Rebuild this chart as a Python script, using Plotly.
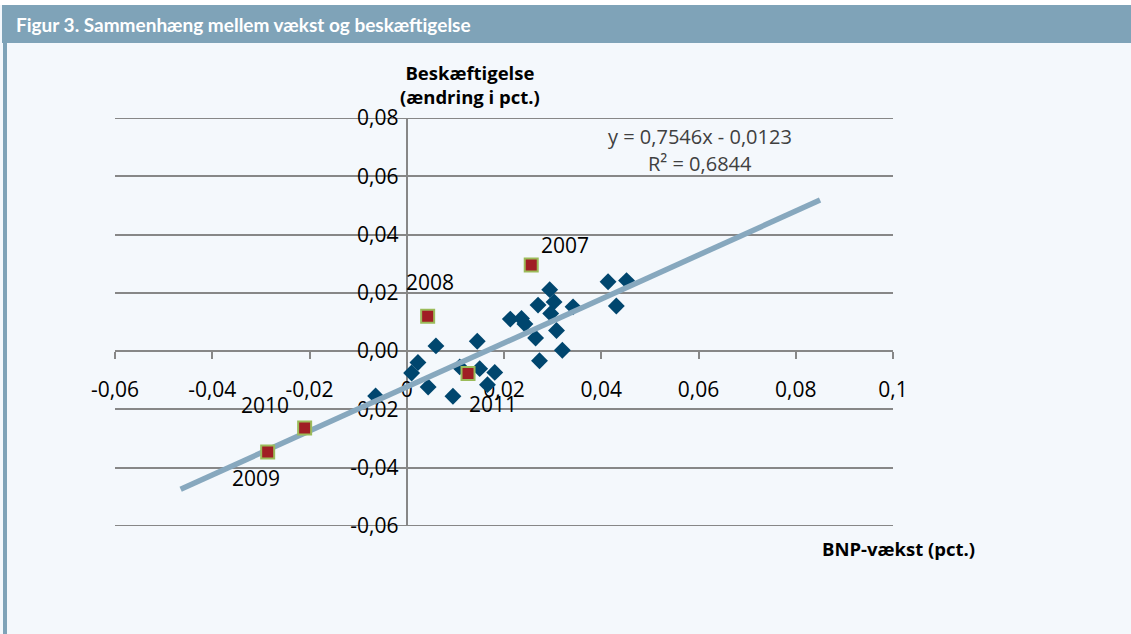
import plotly.graph_objects as go

# ---- data ----
blue_x = [0.0060, 0.0145, 0.0023, 0.0010, 0.0044, 0.0095, 0.0150, 0.0109, 0.0181, 0.0166,
          -0.0064, 0.0213, 0.0236, 0.0243, 0.0294, 0.0303, 0.0270, 0.0342, 0.0296, 0.0308,
          0.0265, 0.0320, 0.0273, 0.0414, 0.0452, 0.0431]
blue_y = [0.0018, 0.0034, -0.0039, -0.0075, -0.0123, -0.0155, -0.0060, -0.0054, -0.0073, -0.0115,
          -0.0154, 0.0110, 0.0112, 0.0093, 0.0211, 0.0169, 0.0158, 0.0152, 0.0129, 0.0071,
          0.0045, 0.0003, -0.0033, 0.0238, 0.0242, 0.0155]

red_years = ["2007", "2008", "2009", "2010", "2011"]
red_x = [0.0256, 0.0043, -0.0286, -0.0210, 0.0126]
red_y = [0.0296, 0.0120, -0.0346, -0.0264, -0.0077]

slope = 0.7546
intercept = -0.0123
trend_x = [-0.0465, 0.085]
trend_y = [slope * v + intercept for v in trend_x]

x_tickvals = [-0.06, -0.04, -0.02, 0, 0.02, 0.04, 0.06, 0.08, 0.1]
x_ticktext = ["-0,06", "-0,04", "-0,02", "0", "0,02", "0,04", "0,06", "0,08", "0,1"]
y_tickvals = [-0.06, -0.04, -0.02, 0, 0.02, 0.04, 0.06, 0.08]
y_ticktext = ["-0,06", "-0,04", "-0,02", "0,00", "0,02", "0,04", "0,06", "0,08"]

title = "Figur 3. Sammenhæng mellem vækst og beskæftigelse"
y_title = "Beskæftigelse<br>(ændring i pct.)"
x_title = "BNP-vækst (pct.)"
eq_line1 = "y = 0,7546x - 0,0123"
eq_line2 = "R² = 0,6844"

# ---- layout constants ----
W, H = 1131, 634
L, R, T, B = 115, 238, 118, 108
pw, ph = W - L - R, H - T - B
X_RANGE = [-0.06, 0.1]
Y_RANGE = [-0.06, 0.08]


def px(xp):
    return (xp - L) / pw


def py(yp):
    return (H - B - yp) / ph


BG = "#f4f8fc"
BAR = "#7fa3b8"
GRID = "#878787"
FONT = "Open Sans, Noto Sans, sans-serif"

fig = go.Figure()

fig.add_trace(go.Scatter(
    x=blue_x, y=blue_y, mode="markers",
    marker=dict(symbol="diamond", size=13, color="#00466e", line=dict(width=0)),
    showlegend=False, hoverinfo="x+y", cliponaxis=False))

fig.add_trace(go.Scatter(
    x=trend_x, y=trend_y, mode="lines",
    line=dict(color="#87a8be", width=5.5),
    showlegend=False, hoverinfo="skip"))

fig.add_trace(go.Scatter(
    x=red_x, y=red_y, mode="markers", text=red_years,
    marker=dict(symbol="square", size=13, color="#a01e24", line=dict(width=2, color="#9bbb59")),
    showlegend=False, hoverinfo="text+x+y"))

# year labels
shifts = {"2007": (34, 20), "2008": (2, 34), "2009": (-12, -26), "2010": (-40, 23), "2011": (25, -30)}
for yr, xv, yv in zip(red_years, red_x, red_y):
    dx, dy = shifts[yr]
    fig.add_annotation(x=xv, y=yv, xref="x", yref="y", text=yr, showarrow=False,
                       xshift=dx, yshift=dy, font=dict(size=21, color="#000000", family=FONT))

# equation
fig.add_annotation(x=px(700), y=py(137), xref="paper", yref="paper", text=eq_line1,
                   showarrow=False, xanchor="center", yanchor="middle",
                   font=dict(size=20, color="#404040", family=FONT))
fig.add_annotation(x=px(700), y=py(163), xref="paper", yref="paper", text=eq_line2,
                   showarrow=False, xanchor="center", yanchor="middle",
                   font=dict(size=20, color="#404040", family=FONT))

# axis titles
fig.add_annotation(x=px(470), y=py(84), xref="paper", yref="paper", text="<b>" + y_title + "</b>",
                   showarrow=False, xanchor="center", yanchor="middle", align="center",
                   font=dict(size=18.5, color="#000000", family=FONT))
fig.add_annotation(x=px(898), y=py(548), xref="paper", yref="paper", text="<b>" + x_title + "</b>",
                   showarrow=False, xanchor="center", yanchor="middle",
                   font=dict(size=18.5, color="#000000", family=FONT))

# edge gridlines (top and bottom ticks)
for gv in (y_tickvals[0], y_tickvals[-1]):
    fig.add_shape(type="line", xref="paper", yref="y", x0=0, x1=1, y0=gv, y1=gv,
                  line=dict(color=GRID, width=2), layer="below")

# title bar + frame
fig.add_shape(type="rect", xref="paper", yref="paper", x0=px(-5), x1=px(W + 5), y0=py(-5), y1=py(5),
              fillcolor="#ffffff", line=dict(width=0), layer="below")
fig.add_shape(type="rect", xref="paper", yref="paper", x0=px(2), x1=px(W + 5), y0=py(43), y1=py(5),
              fillcolor=BAR, line=dict(width=0), layer="below")
fig.add_shape(type="rect", xref="paper", yref="paper", x0=px(3), x1=px(7), y0=py(H + 5), y1=py(43),
              fillcolor=BAR, line=dict(width=0), layer="below")
fig.add_annotation(x=px(14), y=py(25), xref="paper", yref="paper", text="<b>" + title + "</b>",
                   showarrow=False, xanchor="left", yanchor="middle",
                   font=dict(size=19, color="#ffffff", family="Lato, Roboto, sans-serif"))

fig.update_layout(
    width=W, height=H,
    margin=dict(l=L, r=R, t=T, b=B, pad=0),
    paper_bgcolor=BG, plot_bgcolor=BG,
    font=dict(family=FONT, size=21, color="#000000"),
    showlegend=False,
    xaxis=dict(range=X_RANGE, tickvals=x_tickvals, ticktext=x_ticktext,
               anchor="free", position=(0 - Y_RANGE[0]) / (Y_RANGE[1] - Y_RANGE[0]),
               showline=True, linecolor=GRID, linewidth=2,
               ticks="outside", ticklen=7, tickwidth=2, tickcolor=GRID,
               ticklabelstandoff=13,
               showgrid=False, zeroline=False, layer="below traces",
               tickfont=dict(size=21, color="#000000")),
    yaxis=dict(range=Y_RANGE, tickvals=y_tickvals, ticktext=y_ticktext,
               anchor="free", position=(0 - X_RANGE[0]) / (X_RANGE[1] - X_RANGE[0]),
               showline=True, linecolor=GRID, linewidth=2,
               ticks="", ticklabelstandoff=3,
               showgrid=True, gridcolor=GRID, gridwidth=2,
               zeroline=False, layer="below traces",
               tickfont=dict(size=21, color="#000000")),
)

fig.write_html("out.html", config={"displayModeBar": False},
               post_script="document.body.style.margin='0';document.body.style.overflow='hidden';")
